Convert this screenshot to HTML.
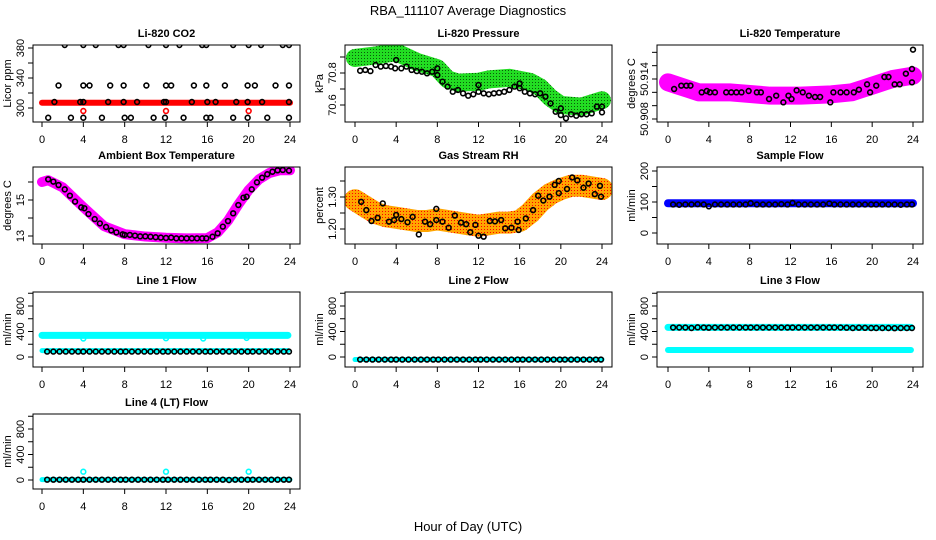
<!DOCTYPE html>
<html><head><meta charset="utf-8"><style>
html,body{margin:0;padding:0;background:#fff;}
svg{display:block;font-family:"Liberation Sans",Arial,sans-serif;}
</style></head><body>
<svg id="chart" width="936" height="540" viewBox="0 0 936 540" xmlns="http://www.w3.org/2000/svg">
<defs>
<pattern id="pGreen" width="3" height="3" patternUnits="userSpaceOnUse"><rect width="3" height="3" fill="#22dd22"/><rect x="1" y="1" width="1" height="1" fill="#0a5a0a"/></pattern>
<pattern id="pOrange" width="3" height="3" patternUnits="userSpaceOnUse"><rect width="3" height="3" fill="#ffa500"/><rect x="1" y="1" width="1" height="1" fill="#ff0000"/></pattern>
</defs>
<text x="468" y="15" text-anchor="middle" font-size="13">RBA_111107  Average Diagnostics</text>
<text x="468" y="531" text-anchor="middle" font-size="13">Hour of Day (UTC)</text>
</svg>
<script>
// ---- data ----
const X_TICKS = [0,4,8,12,16,20,24];
const FLOW_T = [0.5,1.1,1.7,2.3,2.9,3.5,4.0,4.6,5.2,5.8,6.4,7.0,7.6,8.1,8.7,9.3,9.9,10.5,11.1,11.7,12.2,12.8,13.4,14.0,14.6,15.2,15.8,16.3,16.9,17.5,18.1,18.7,19.3,19.9,20.4,21.0,21.6,22.2,22.8,23.4,23.9];

const CO2_BAND_T = [0,24];
const CO2_BAND_V = [307,307];
const CO2_RED_T = [4,12,20];
const CO2_RED_V = [296,296,296];
const CO2_T = [2.2,4,5.2,7.4,7.9,10.3,12,13.3,15.5,15.9,18.5,20,21.2,23.3,23.9, 1.6,4,4.6,6.6,7.9,10.1,12,12.5,14.7,15.9,17.7,19.9,20.6,22.6,23.9, 1.2,3.7,4,6.4,7.9,9.2,11.8,12,14.5,16,16.8,18.8,19.9,21.3,23.9, 0.6,2.8,4,5.8,8,8.6,10.8,11.9,13.7,15.9,16.3,18.5,19.9,21.8,23.9];
const CO2_V = [384,384,384,384,384,384,384,384,384,384,384,384,384,384,384, 330,330,330,330,330,330,330,330,330,330,330,330,330,330,330, 308,308,308,308,308,308,308,308,308,308,308,308,308,308,308, 287,287,287,287,287,287,287,287,287,287,287,287,287,287,287];

const PR_BAND_T = [0,2,4,5,6,8,9,10,12,13,15,17,18,19,20,22,24];
const PR_BAND_V = [70.894,70.91,70.93,70.9,70.87,70.83,70.76,70.74,70.745,70.76,70.77,70.745,70.71,70.645,70.6,70.59,70.63];
const PR_T = [0.5,1,1.5,2,2.5,3,3.5,3.9,4,4.5,5,5.5,6,6.5,7,7.5,8,8,8.5,9,9.5,10,10.5,11,11.5,12,12,12.5,13,13.5,14,14.5,15,15.5,16,16,16.5,17,17.5,18,18.5,19,19.5,20,20,20.5,21,21.5,22,22.5,23,23.5,24,24];
const PR_V = [70.814,70.819,70.812,70.85,70.84,70.844,70.84,70.829,70.881,70.829,70.84,70.819,70.812,70.808,70.798,70.808,70.829,70.787,70.746,70.715,70.683,70.694,70.673,70.658,70.667,70.683,70.725,70.673,70.667,70.673,70.677,70.683,70.694,70.715,70.705,70.735,70.683,70.673,70.667,70.673,70.652,70.61,70.558,70.537,70.579,70.517,70.542,70.533,70.542,70.542,70.548,70.59,70.554,70.59];

const TP_BAND_T = [0,1,2,3,6,10,13,16,18,19,20,22,24];
const TP_BAND_V = [50.9135,50.913,50.9125,50.912,50.912,50.9115,50.9115,50.9117,50.912,50.9125,50.913,50.914,50.9145];
const TP_T = [0.6,1.3,1.8,2.2,3.3,3.8,4.1,4.6,5.7,6.2,6.7,7.2,7.9,8.7,9.1,9.9,10.6,11.3,11.8,12.1,12.6,13.2,13.8,14.4,14.9,15.9,16.2,16.9,17.5,18.2,18.7,19.5,19.8,20.4,21.2,21.6,22.2,22.7,23.3,23.9,23.9,24];
const TP_V = [50.9125,50.913,50.913,50.913,50.912,50.9122,50.912,50.912,50.912,50.912,50.912,50.912,50.9122,50.912,50.912,50.911,50.9115,50.9105,50.9115,50.911,50.9123,50.912,50.9115,50.9113,50.9113,50.9105,50.912,50.912,50.912,50.912,50.9124,50.9132,50.912,50.913,50.9143,50.9143,50.9132,50.9132,50.9148,50.9135,50.9155,50.9184];

const AM_BAND_T = [0,0.6,2,4,6,8,10,12,14,16,17,18,19,20,21,22,23,24];
const AM_BAND_V = [16.0,16.1,15.7,14.6,13.55,13.1,12.97,12.9,12.87,12.88,13.2,13.85,14.75,15.55,16.15,16.5,16.65,16.65];
const AM_T = [0.6,1.1,1.6,2.2,2.7,3.2,3.8,4.1,4.5,5.1,5.6,6.2,6.7,7.2,7.8,8.0,8.5,9.0,9.5,10,10.5,11,11.5,12,12.5,13,13.5,14,14.5,15,15.5,15.9,16.5,17,17.5,18,18.5,19,19.5,19.8,20.3,20.8,21.3,21.8,22.3,22.8,23.3,23.9];
const AM_V = [16.15,16.02,15.83,15.59,15.24,14.91,14.59,14.54,14.22,13.94,13.70,13.5,13.31,13.2,13.09,13.06,13.06,13.02,12.98,12.98,12.96,12.93,12.91,12.89,12.91,12.87,12.87,12.87,12.87,12.87,12.87,12.87,12.96,13.15,13.52,13.83,14.26,14.72,15.13,15.18,15.59,15.98,16.24,16.43,16.57,16.65,16.67,16.63];

const RH_BAND_T = [0,1,2,3,4,5,6,7,8,9,10,11,12,13,14,15,16,17,18,19,20,21,22,23,24];
const RH_BAND_V = [1.29,1.27,1.25,1.24,1.235,1.23,1.225,1.225,1.23,1.225,1.22,1.215,1.21,1.215,1.22,1.22,1.225,1.25,1.285,1.31,1.325,1.335,1.335,1.33,1.325];
const RH_T = [0.6,1.1,1.6,2.2,2.7,3.3,3.8,4.0,4.5,5.1,5.6,6.2,6.8,7.3,7.9,7.9,8.5,9.1,9.7,10.3,10.8,11.2,11.7,12.0,12.5,13.1,13.6,14.2,14.6,15.2,15.8,15.9,16.6,17.3,17.8,18.3,18.9,19.4,19.8,19.8,20.6,21.1,21.6,22.2,22.7,23.3,23.8,23.9];
const RH_V = [1.285,1.259,1.225,1.235,1.28,1.223,1.228,1.244,1.231,1.221,1.238,1.183,1.223,1.215,1.263,1.228,1.223,1.204,1.242,1.22,1.215,1.19,1.213,1.179,1.176,1.225,1.224,1.228,1.202,1.204,1.223,1.197,1.233,1.259,1.304,1.289,1.301,1.338,1.35,1.312,1.325,1.361,1.352,1.329,1.342,1.309,1.335,1.301];

const SF_BAND_T = [0,24];
const SF_BAND_V = [96,96];
const SF_V = [92,91,92,92,93,92,86,92,92,92,92,92,92,96,92,92,92,92,93,92,97,92,92,92,92,92,95,92,92,92,92,92,92,92,92,92,92,92,91,92,92];

const L1_BAND_T = [0,23.8];
const L1_BAND_V = [340,340];
const L1_LOW_V = [100,100];
const L1_DIP_T = [4,12,15.6,19.8];
const L1_DIP_V = [290,295,290,300];
const L1_V = [85,85,85,85,85,85,85,85,85,85,85,85,85,85,85,85,85,85,85,85,85,85,85,85,85,85,85,85,85,85,85,85,85,85,85,85,85,85,85,85,85];

const L2_BAND_T = [0,24];
const L2_BAND_V = [-40,-40];
const L2_V = [-40,-40,-40,-40,-40,-40,-40,-40,-40,-40,-40,-40,-40,-40,-40,-40,-40,-40,-40,-40,-40,-40,-40,-40,-40,-40,-40,-40,-40,-40,-40,-40,-40,-40,-40,-40,-40,-40,-40,-40,-40];

const L3_BAND_T = [0,23.8];
const L3_BAND_V = [465,465];
const L3_LOW_V = [110,110];
const L3_V = [462,462,462,455,465,462,460,462,462,462,462,462,462,462,462,462,462,462,462,462,462,462,462,462,462,462,462,462,462,460,455,460,458,455,455,455,455,452,455,455,455];

const L4_BAND_T = [0,24];
const L4_BAND_V = [5,5];
const L4_SPIKE_T = [4,12,20];
const L4_SPIKE_V = [130,130,130];
const L4_V = [5,5,5,5,5,5,5,5,5,5,5,5,5,5,5,5,5,5,5,5,5,5,5,5,5,5,5,5,5,5,0,5,5,5,5,5,5,5,5,5,5];

// ---- layout ----
const COLS = [{b0:33,b1:300,x0:42,x24:290},{b0:345,b1:612,x0:355,x24:602},{b0:657,b1:923,x0:668,x24:913}];
const ROWS = [{t:45,b:122},{t:167,b:244},{t:292,b:367},{t:414,b:489}];
const svg = document.getElementById('chart');
const NS = 'http://www.w3.org/2000/svg';
function el(tag, parent){const e=document.createElementNS(NS,tag);parent.appendChild(e);return e;}

function makePanel(slug, title, ylab, col, row, yv0, yp0, yv1, yp1, yticks, ylabels){
  const c=COLS[col], r=ROWS[row];
  const g=el('g',svg);
  
  
  const sx=h=>c.x0+(c.x24-c.x0)*h/24;
  const sy=v=>yp0+(v-yv0)*(yp1-yp0)/(yv1-yv0);
  const t=el('text',g);
  
  
  t.setAttribute('x',(c.b0+c.b1)/2);t.setAttribute('y',r.t-8);t.setAttribute('text-anchor','middle');
  t.setAttribute('font-size','11');t.setAttribute('font-weight','bold');t.textContent=title;
  const yl=el('text',g);
  
  
  const yx=c.b0-22, ym=(r.t+r.b)/2;
  yl.setAttribute('x',yx);yl.setAttribute('y',ym);yl.setAttribute('font-size','11');yl.setAttribute('text-anchor','middle');
  yl.setAttribute('transform','rotate(-90 '+yx+' '+ym+')');yl.textContent=ylab;
  X_TICKS.forEach(h=>{
    const ln=el('line',g);
    
    
    ln.setAttribute('x1',sx(h));ln.setAttribute('x2',sx(h));ln.setAttribute('y1',r.b);ln.setAttribute('y2',r.b+5);ln.setAttribute('stroke','#000');
    const tl=el('text',g);
    
    
    tl.setAttribute('x',sx(h));tl.setAttribute('y',r.b+21);tl.setAttribute('text-anchor','middle');tl.setAttribute('font-size','11');tl.textContent=h;
  });
  yticks.forEach(v=>{
    const ln=el('line',g);
    
    
    ln.setAttribute('x1',c.b0);ln.setAttribute('x2',c.b0-5);ln.setAttribute('y1',sy(v));ln.setAttribute('y2',sy(v));ln.setAttribute('stroke','#000');
  });
  ylabels.forEach(lab=>{
    const v=parseFloat(lab), lx=c.b0-9, ly=sy(v);
    const tl=el('text',g);
    
    
    tl.setAttribute('x',lx);tl.setAttribute('y',ly);tl.setAttribute('text-anchor','middle');tl.setAttribute('font-size','11');
    tl.setAttribute('transform','rotate(-90 '+lx+' '+ly+')');tl.textContent=lab;
  });
  const cp=el('clipPath',g); cp.setAttribute('id','clip-'+slug);
  const cr=el('rect',cp); cr.setAttribute('x',c.b0);cr.setAttribute('y',r.t);cr.setAttribute('width',c.b1-c.b0);cr.setAttribute('height',r.b-r.t);
  const data=el('g',g); data.setAttribute('clip-path','url(#clip-'+slug+')');
  
  
  const box=el('rect',g);
  
  
  box.setAttribute('x',c.b0);box.setAttribute('y',r.t);box.setAttribute('width',c.b1-c.b0);box.setAttribute('height',r.b-r.t);
  box.setAttribute('fill','none');box.setAttribute('stroke','#000');
  return {g:data,sx,sy};
}
function band(p, ts, vs, color, w, name){
  const pl=el('polyline',p.g);
  
  
  pl.setAttribute('points',ts.map((h,i)=>p.sx(h)+','+p.sy(vs[i])).join(' '));
  pl.setAttribute('fill','none');pl.setAttribute('stroke',color);pl.setAttribute('stroke-width',w);
  pl.setAttribute('stroke-linejoin','round');pl.setAttribute('stroke-linecap','round');
}
function pts(p, ts, vs, color, name){
  ts.forEach((h,i)=>{
    const ci=el('circle',p.g);
    
    
    ci.setAttribute('cx',p.sx(h));ci.setAttribute('cy',p.sy(vs[i]));ci.setAttribute('r',2.4);
    ci.setAttribute('fill','none');ci.setAttribute('stroke',color);ci.setAttribute('stroke-width',1.6);
  });
}
const FLOWT=[0,200,400,600,800,1000], FLOWL=['0','400','800'];

let p=makePanel('co2','Li-820 CO2','Licor ppm',0,0,300,108,380,48,[300,320,340,360,380],['300','340','380']);
band(p,CO2_BAND_T,CO2_BAND_V,'#ff0000',6,'co2-red-band');
pts(p,CO2_RED_T,CO2_RED_V,'#ff0000','co2-red-point');
pts(p,CO2_T,CO2_V,'#000','co2-point');

p=makePanel('pressure','Li-820 Pressure','kPa',1,0,70.6,105,70.8,73,[70.6,70.7,70.8,70.9],['70.6','70.8']);
band(p,PR_BAND_T,PR_BAND_V,'url(#pGreen)',18,'pressure-band');
pts(p,PR_T,PR_V,'#000','pressure-point');

p=makePanel('temperature','Li-820 Temperature','degrees C',2,0,50.908,119,50.914,79,[50.908,50.910,50.912,50.914,50.916,50.918],['50.908','50.914']);
band(p,TP_BAND_T,TP_BAND_V,'#ff00ff',18,'temperature-band');
pts(p,TP_T,TP_V,'#000','temperature-point');

p=makePanel('ambient','Ambient Box Temperature','degrees C',0,1,13,236,15,200,[13,14,15,16],['13','15']);
band(p,AM_BAND_T,AM_BAND_V,'#ff00ff',10,'ambient-band');
pts(p,AM_T,AM_V,'#000','ambient-point');

p=makePanel('rh','Gas Stream RH','percent',1,1,1.20,229,1.30,197,[1.20,1.25,1.30,1.35],['1.20','1.30']);
band(p,RH_BAND_T,RH_BAND_V,'url(#pOrange)',22,'rh-band');
pts(p,RH_T,RH_V,'#000','rh-point');

p=makePanel('sample-flow','Sample Flow','ml/min',2,1,0,233,200,171,[0,50,100,150,200],['0','100','200']);
band(p,SF_BAND_T,SF_BAND_V,'#0000ff',8,'sample-flow-band');
pts(p,FLOW_T,SF_V,'#000','sample-flow-point');

p=makePanel('line1','Line 1 Flow','ml/min',0,2,0,357,800,306,FLOWT,FLOWL);
band(p,L1_BAND_T,L1_BAND_V,'#00ffff',7,'line1-high-band');
band(p,L1_BAND_T,L1_LOW_V,'#00ffff',5,'line1-low-band');
pts(p,L1_DIP_T,L1_DIP_V,'#00ffff','line1-dip-point');
pts(p,FLOW_T,L1_V,'#000','line1-point');

p=makePanel('line2','Line 2 Flow','ml/min',1,2,0,357,800,306,FLOWT,FLOWL);
band(p,L2_BAND_T,L2_BAND_V,'#00ffff',5,'line2-band');
pts(p,FLOW_T,L2_V,'#000','line2-point');

p=makePanel('line3','Line 3 Flow','ml/min',2,2,0,357,800,306,FLOWT,FLOWL);
band(p,L3_BAND_T,L3_BAND_V,'#00ffff',7,'line3-high-band');
band(p,L3_BAND_T,L3_LOW_V,'#00ffff',6,'line3-low-band');
pts(p,FLOW_T,L3_V,'#000','line3-point');

p=makePanel('line4','Line 4 (LT) Flow','ml/min',0,3,0,480,800,429,FLOWT,FLOWL);
band(p,L4_BAND_T,L4_BAND_V,'#00ffff',5,'line4-band');
pts(p,L4_SPIKE_T,L4_SPIKE_V,'#00ffff','line4-spike-point');
pts(p,FLOW_T,L4_V,'#000','line4-point');
</script>
</body></html>
